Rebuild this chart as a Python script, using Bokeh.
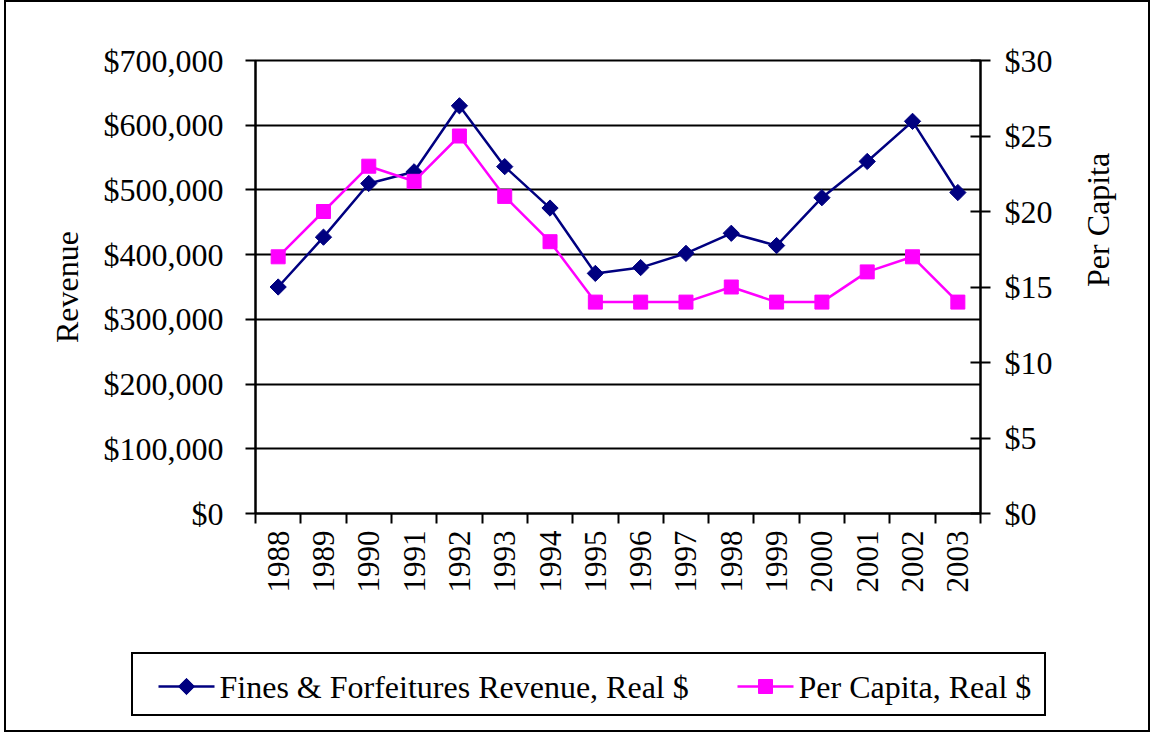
import math
from bokeh.plotting import figure
from bokeh.layouts import column, row
from bokeh.models import Range1d, LinearAxis, FixedTicker, NumeralTickFormatter, Spacer
from bokeh.core.properties import value
from bokeh.embed import file_html
from bokeh.resources import INLINE

years = [1988, 1989, 1990, 1991, 1992, 1993, 1994, 1995,
         1996, 1997, 1998, 1999, 2000, 2001, 2002, 2003]
revenue = [350000, 427000, 510000, 528000, 630000, 536000, 472000, 371000,
           380000, 402000, 433000, 414000, 488000, 544000, 606000, 496000]
per_capita = [17, 20, 23, 22, 25, 21, 18, 14, 14, 14, 15, 14, 14, 16, 17, 14]
left_ticks = [0, 100000, 200000, 300000, 400000, 500000, 600000, 700000]
right_ticks = [0, 5, 10, 15, 20, 25, 30]
series_labels = ["Fines & Forfeitures Revenue, Real $", "Per Capita, Real $"]

FONT = "Liberation Serif"
NAVY = "#000080"
MAGENTA = "#FF00FF"

bounds = [y - 0.5 for y in years] + [years[-1] + 0.5]

p = figure(width=1142, height=640, x_range=Range1d(years[0] - 0.5, years[-1] + 0.5),
           y_range=Range1d(left_ticks[0], left_ticks[-1]),
           output_backend="svg", toolbar_location=None,
           min_border_left=249, min_border_right=168,
           min_border_top=58, min_border_bottom=129)
p.background_fill_color = "white"
p.border_fill_color = "white"
p.outline_line_color = "black"
p.outline_line_width = 2

p.extra_y_ranges = {"pc": Range1d(right_ticks[0], right_ticks[-1])}

# x axis
xa = p.xaxis[0]
xa.ticker = FixedTicker(ticks=years, minor_ticks=bounds)
xa.formatter = NumeralTickFormatter(format="0")
xa.major_label_orientation = math.pi / 2
xa.major_tick_line_color = None
xa.major_tick_out = 0
xa.major_tick_in = 0
xa.minor_tick_line_color = "black"
xa.minor_tick_line_width = 2
xa.minor_tick_out = 10
xa.minor_tick_in = 0
xa.axis_line_color = "black"
xa.axis_line_width = 2
xa.major_label_text_font = FONT
xa.major_label_text_font_size = "31px"
xa.major_label_text_color = "black"
xa.major_label_standoff = 7

# left axis
ya = p.yaxis[0]
ya.ticker = FixedTicker(ticks=left_ticks)
ya.formatter = NumeralTickFormatter(format="$0,0")
ya.axis_label = "Revenue"
ya.major_tick_out = 10
ya.major_tick_in = 0
ya.major_tick_line_width = 2
ya.minor_tick_line_color = None
ya.axis_line_width = 2
ya.major_label_text_font = FONT
ya.major_label_text_font_size = "32px"
ya.major_label_text_color = "black"
ya.major_label_standoff = 22
ya.axis_label_text_font = FONT
ya.axis_label_text_font_size = "32px"
ya.axis_label_text_font_style = "normal"
ya.axis_label_text_color = "black"
ya.axis_label_standoff = 16

# right axis
ra = LinearAxis(y_range_name="pc", ticker=FixedTicker(ticks=right_ticks),
                formatter=NumeralTickFormatter(format="$0"), axis_label="Per Capita")
ra.major_tick_out = 10
ra.major_tick_in = 10
ra.major_tick_line_width = 2
ra.minor_tick_line_color = None
ra.axis_line_width = 2
ra.major_label_text_font = FONT
ra.major_label_text_font_size = "32px"
ra.major_label_text_color = "black"
ra.major_label_standoff = 14
ra.axis_label_text_font = FONT
ra.axis_label_text_font_size = "32px"
ra.axis_label_text_font_style = "normal"
ra.axis_label_text_color = "black"
ra.axis_label_standoff = 42
ra.axis_label_orientation = math.pi / 2
p.add_layout(ra, "right")

p.xgrid.visible = False
p.ygrid.ticker = FixedTicker(ticks=left_ticks)
p.ygrid.grid_line_color = "black"
p.ygrid.grid_line_width = 2

p.line(years, revenue, line_color=NAVY, line_width=2.5)
p.scatter(years, revenue, marker="square", angle=math.pi / 4, size=11.5,
          fill_color=NAVY, line_color=NAVY)
p.line(years, per_capita, line_color=MAGENTA, line_width=2.5, y_range_name="pc")
p.scatter(years, per_capita, marker="square", size=14, fill_color=MAGENTA,
          line_color=MAGENTA, y_range_name="pc")

# ---- legend box (small figure in pixel coordinates) ----
LW, LH = 915, 64
leg = figure(width=LW, height=LH, x_range=Range1d(0, LW), y_range=Range1d(0, LH),
             output_backend="svg", toolbar_location=None,
             x_axis_location=None, y_axis_location=None, min_border=0)
leg.outline_line_color = None
leg.grid.visible = False
leg.background_fill_color = "white"
leg.border_fill_color = "white"
leg.styles = {"border": "2px solid black"}

glyph_w = 56
item_x = [25, 604]          # left edge of each legend glyph
text_gap = 5
cy = LH / 2
colors = [NAVY, MAGENTA]
for i, (x0, c) in enumerate(zip(item_x, colors)):
    leg.line([x0, x0 + glyph_w], [cy, cy], line_color=c, line_width=2.5)
    if i == 0:
        leg.scatter([x0 + glyph_w / 2], [cy], marker="square", angle=math.pi / 4,
                    size=11.5, fill_color=c, line_color=c)
    else:
        leg.scatter([x0 + glyph_w / 2], [cy], marker="square", size=14,
                    fill_color=c, line_color=c)
leg.text(x=[x + glyph_w + text_gap for x in item_x], y=[cy, cy], text=series_labels,
         text_font=value(FONT), text_font_size="32px", text_color="black",
         text_baseline="middle", text_align="left")

legend_row = row(Spacer(width=125, height=LH + 4), leg, spacing=0)
layout = column(p, Spacer(width=10, height=10), legend_row,
                Spacer(width=10, height=10), spacing=0)
layout.styles = {"border": "2px solid black", "background-color": "white",
                 "margin-left": "4px"}

open("out.html", "w").write(file_html(layout, INLINE))
